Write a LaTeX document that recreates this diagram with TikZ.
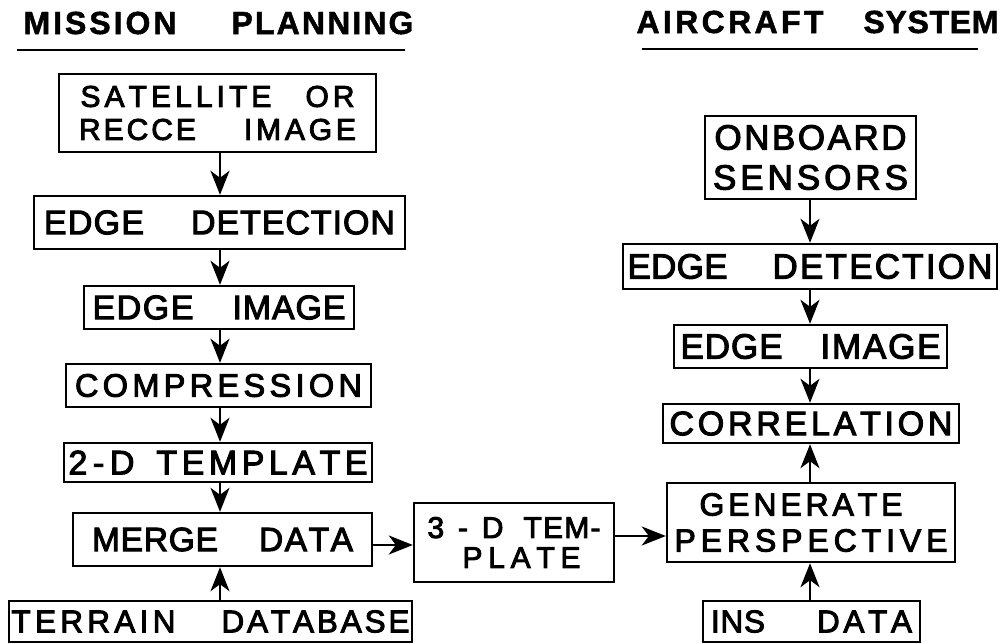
\documentclass[tikz,border=0pt]{standalone}
\usepackage{fontspec}
\setmainfont{Liberation Sans}
\newfontfamily\boxface[FakeBold=3]{Liberation Sans}
\newfontfamily\headface[FakeBold=1.5]{Liberation Sans Bold}
\usetikzlibrary{arrows.meta}

% set a word with its letters spread evenly over a given width (pt)
\ExplSyntaxOn
\NewDocumentCommand \spreadword { m m }
  { \makebox[#1pt][s]{ \tl_map_inline:nn {#2} { ##1 \hfil } \unskip } }
\ExplSyntaxOff
% two spread words pushed to the ends of a given total width
\newcommand\twowords[5]{\makebox[#1pt][s]{\spreadword{#2}{#3}\hfill\spreadword{#4}{#5}}}
\newcommand\fsz[2]{\fontsize{#1}{#2}\selectfont}

\tikzset{
  blk/.style={draw, line width=2.4pt, inner sep=0pt, align=center},
  arr/.style={line width=2pt, -{Stealth[length=24pt,width=19pt,inset=7pt]}},
  rulebar/.style={line width=2.4pt},
  head/.style={inner sep=0pt, font=\headface\fsz{32}{36}},
}

\begin{document}
\begin{tikzpicture}[x=1pt,y=-1pt]
\useasboundingbox (0,0) rectangle (1003,644);

% column headings
\node[head] (mp) at (218.5,23) {\twowords{390}{153}{MISSION}{182}{PLANNING}};
\node[head] (ac) at (817.5,22) {\twowords{362}{187}{AIRCRAFT}{135}{SYSTEM}};
\coordinate (mpL) at (17,50);  \coordinate (mpR) at (405,50);
\coordinate (acL) at (642,49); \coordinate (acR) at (978,49);
\draw[rulebar] (mpL) -- (mpR);
\draw[rulebar] (acL) -- (acR);

% mission planning chain
\node[blk, minimum width=317pt, minimum height=78pt, font=\boxface\fsz{30}{33}] (sat) at (217.5,113)
  {\twowords{274}{191}{SATELLITE}{49}{OR}\\\twowords{277}{117}{RECCE}{112}{IMAGE}};
\node[blk, minimum width=371pt, minimum height=53pt, font=\boxface\fsz{34}{40}] (ed1) at (219.5,222.5)
  {\twowords{351}{100}{EDGE}{204}{DETECTION}};
\node[blk, minimum width=270pt, minimum height=43pt, font=\boxface\fsz{34}{40}] (ei1) at (219,307.5)
  {\twowords{253}{101}{EDGE}{113}{IMAGE}};
\node[blk, minimum width=305pt, minimum height=43pt, font=\boxface\fsz{32.5}{40}] (comp) at (218.5,385.5)
  {\spreadword{287}{COMPRESSION}};
\node[blk, minimum width=308pt, minimum height=39pt, font=\boxface\fsz{34}{40}] (t2d) at (218,462.5)
  {\twowords{299}{66}{2-D}{211}{TEMPLATE}};
\node[blk, minimum width=299pt, minimum height=53pt, font=\boxface\fsz{33.5}{40}] (merge) at (222.5,539.5)
  {\twowords{261}{126}{MERGE}{94}{DATA}};
\node[blk, minimum width=403pt, minimum height=41pt, font=\boxface\fsz{31.5}{40}] (terrain) at (210.5,621.5)
  {\twowords{398}{164}{TERRAIN}{188}{DATABASE}};

% bridge between the two systems
\node[blk, minimum width=200pt, minimum height=79pt, font=\boxface\fsz{30}{30}] (t3d) at (514,542.5)
  {\twowords{173}{76}{3-D}{77}{TEM-}\\\hspace*{15pt}\spreadword{118}{PLATE}};

% aircraft system chain
\node[blk, minimum width=211pt, minimum height=83pt, font=\boxface\fsz{35}{40}] (onb) at (810.5,157.5)
  {\spreadword{192}{ONBOARD}\\\spreadword{195}{SENSORS}};
\node[blk, minimum width=374pt, minimum height=45pt, font=\boxface\fsz{35}{40}] (ed2) at (810,266.5)
  {\twowords{365}{100}{EDGE}{220}{DETECTION}};
\node[blk, minimum width=273pt, minimum height=43pt, font=\boxface\fsz{35}{40}] (ei2) at (810.5,346.5)
  {\twowords{260}{102}{EDGE}{120}{IMAGE}};
\node[blk, minimum width=296pt, minimum height=39pt, font=\boxface\fsz{34}{40}] (corr) at (811,423.5)
  {\spreadword{283}{CORRELATION}};
\node[blk, minimum width=288pt, minimum height=79pt, font=\boxface\fsz{32}{36}] (gen) at (811,522.5)
  {\spreadword{203}{GENERATE}\hspace*{20pt}\\\spreadword{273}{PERSPECTIVE}};
\node[blk, minimum width=217pt, minimum height=41pt, font=\boxface\fsz{31.5}{40}] (ins) at (811.5,621.5)
  {\twowords{201}{54}{INS}{95}{DATA}};

% connector guides
\coordinate (cl) at (220,0);
\coordinate (cr) at (810,0);
\coordinate (ra) at (0,545);
\coordinate (rb) at (0,536);

% left column flow
\draw[arr] (sat.south -| cl) -- (ed1.north -| cl);
\draw[arr] (ed1.south -| cl) -- (ei1.north -| cl);
\draw[arr] (ei1.south -| cl) -- (comp.north -| cl);
\draw[arr] (comp.south -| cl) -- (t2d.north -| cl);
\draw[arr] (t2d.south -| cl) -- (merge.north -| cl);
\draw[arr] (terrain.north -| cl) -- (merge.south -| cl);

% across to the aircraft
\draw[arr] (merge.east |- ra) -- (t3d.west |- ra);
\draw[arr] (t3d.east |- rb) -- (gen.west |- rb);

% right column flow
\draw[arr] (onb.south -| cr) -- (ed2.north -| cr);
\draw[arr] (ed2.south -| cr) -- (ei2.north -| cr);
\draw[arr] (ei2.south -| cr) -- (corr.north -| cr);
\draw[arr] (gen.north -| cr) -- (corr.south -| cr);
\draw[arr] (ins.north -| cr) -- (gen.south -| cr);
\end{tikzpicture}
\end{document}
